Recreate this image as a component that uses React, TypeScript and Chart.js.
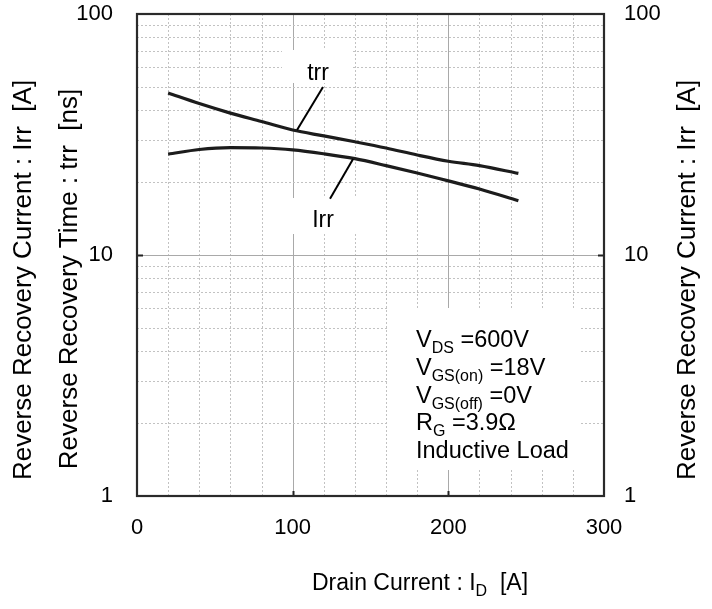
import React, { useEffect, useRef } from 'react';
import { Chart, registerables } from 'chart.js';

Chart.register(...registerables);

// ---- data ----
const drainCurrent = [20, 40, 60, 80, 100, 120, 140, 160, 180, 200, 220, 245];
const trrValues = [47, 42.5, 38.8, 35.8, 33.0, 31.2, 29.5, 27.8, 26.0, 24.5, 23.5, 21.8];
const irrValues = [26.2, 27.4, 27.9, 27.8, 27.3, 26.3, 25.1, 23.5, 21.9, 20.3, 18.8, 16.8];
const xTickValues = [0, 100, 200, 300];
const yTickValues = [1, 10, 100];
// leader lines: [fromX, fromY, toX, toY] in data units
const trrLeader = [119.5, 49.8, 102.8, 33.0];
const irrLeader = [138.8, 25.0, 124, 17.1];
const conditionLines = [
  [{ t: 'V' }, { t: 'DS', sub: true }, { t: ' =600V' }],
  [{ t: 'V' }, { t: 'GS(on)', sub: true }, { t: ' =18V' }],
  [{ t: 'V' }, { t: 'GS(off)', sub: true }, { t: ' =0V' }],
  [{ t: 'R' }, { t: 'G', sub: true }, { t: ' =3.9\u03A9' }],
  [{ t: 'Inductive Load' }],
];
const xTitle = [{ t: 'Drain Current : I' }, { t: 'D', sub: true }, { t: '  [A]' }];
const yTitle1 = 'Reverse Recovery Current : Irr  [A]';
const yTitle2 = 'Reverse Recovery Time : trr  [ns]';
const y2Title = 'Reverse Recovery Current : Irr  [A]';

const FONT = "'Liberation Sans', Arial, Helvetica, sans-serif";

type Part = { t: string; sub?: boolean };

function drawRich(ctx: CanvasRenderingContext2D, x: number, y: number, parts: Part[], size: number, subSize: number, align: 'left' | 'center' = 'left') {
  let w = 0;
  for (const p of parts) {
    ctx.font = `${p.sub ? subSize : size}px ${FONT}`;
    w += ctx.measureText(p.t).width;
  }
  let cx = align === 'center' ? x - w / 2 : x;
  ctx.textAlign = 'left';
  ctx.textBaseline = 'alphabetic';
  for (const p of parts) {
    ctx.font = `${p.sub ? subSize : size}px ${FONT}`;
    ctx.fillText(p.t, cx, p.sub ? y + 6 : y);
    cx += ctx.measureText(p.t).width;
  }
}

const decorPlugin = {
  id: 'decor',
  beforeDatasetsDraw(chart: any) {
    const { ctx, chartArea: a } = chart;
    const x = chart.scales.x;
    const y = chart.scales.y;
    ctx.save();
    ctx.lineWidth = 1;
    // vertical grid
    for (let v = 20; v < 300; v += 20) {
      const px = Math.round(x.getPixelForValue(v)) + 0.5;
      const major = v % 100 === 0;
      ctx.strokeStyle = major ? '#a9a9a9' : '#c2c2c2';
      ctx.setLineDash(major ? [] : [2, 2]);
      ctx.beginPath();
      ctx.moveTo(px, a.top);
      ctx.lineTo(px, a.bottom);
      ctx.stroke();
    }
    // horizontal grid (log)
    for (const d of [1, 10]) {
      for (let m = 2; m <= 10; m++) {
        const v = m * d;
        if (v >= 100) continue;
        const py = Math.round(y.getPixelForValue(v)) + 0.5;
        const major = m === 10;
        ctx.strokeStyle = major ? '#a9a9a9' : '#c2c2c2';
        ctx.setLineDash(major ? [] : [2, 2]);
        ctx.beginPath();
        ctx.moveTo(a.left, py);
        ctx.lineTo(a.right, py);
        ctx.stroke();
      }
    }
    ctx.setLineDash([]);
    // white label boxes
    ctx.fillStyle = '#ffffff';
    ctx.fillRect(282, 50, 70, 33);
    ctx.fillRect(291, 198, 67, 36);
    ctx.fillRect(389, 308, 190, 162);
    ctx.restore();
  },
  afterDatasetsDraw(chart: any) {
    const { ctx, chartArea: a } = chart;
    const x = chart.scales.x;
    const y = chart.scales.y;
    ctx.save();
    // leader lines
    ctx.strokeStyle = '#000';
    ctx.lineWidth = 2;
    for (const L of [trrLeader, irrLeader]) {
      ctx.beginPath();
      ctx.moveTo(x.getPixelForValue(L[0]), y.getPixelForValue(L[1]));
      ctx.lineTo(x.getPixelForValue(L[2]), y.getPixelForValue(L[3]));
      ctx.stroke();
    }
    ctx.fillStyle = '#000';
    ctx.font = `23px ${FONT}`;
    ctx.textAlign = 'center';
    ctx.textBaseline = 'alphabetic';
    ctx.fillText('trr', 318, 80);
    ctx.fillText('Irr', 323, 227);
    // conditions
    conditionLines.forEach((parts, i) => {
      drawRich(ctx, 416, 347 + i * 27.8, parts as Part[], 23.5, 16, 'left');
    });
    // inward ticks
    ctx.strokeStyle = '#222';
    ctx.lineWidth = 2;
    for (const v of [100, 200]) {
      const px = Math.round(x.getPixelForValue(v)) + 0.5;
      ctx.beginPath();
      ctx.moveTo(px, a.bottom);
      ctx.lineTo(px, a.bottom - 5);
      ctx.stroke();
    }
    const p10 = Math.round(y.getPixelForValue(10)) + 0.5;
    ctx.beginPath();
    ctx.moveTo(a.left, p10);
    ctx.lineTo(a.left + 6, p10);
    ctx.moveTo(a.right, p10);
    ctx.lineTo(a.right - 6, p10);
    ctx.stroke();
    // border
    ctx.strokeStyle = '#2a2a2a';
    ctx.lineWidth = 2.2;
    ctx.strokeRect(a.left, a.top, a.right - a.left, a.bottom - a.top);
    ctx.restore();
  },
  afterDraw(chart: any) {
    const { ctx } = chart;
    ctx.save();
    ctx.fillStyle = '#000';
    drawRich(ctx, 420, 590, xTitle as Part[], 23, 16, 'center');
    ctx.font = `26px ${FONT}`;
    ctx.textAlign = 'center';
    ctx.textBaseline = 'middle';
    const rot = (t: string, cx: number, cy: number) => {
      ctx.save();
      ctx.translate(cx, cy);
      ctx.rotate(-Math.PI / 2);
      ctx.fillText(t, 0, 0);
      ctx.restore();
    };
    rot(yTitle1, 24, 280);
    rot(yTitle2, 70, 279);
    rot(y2Title, 688, 280);
    ctx.restore();
  },
};

export default function App() {
  const ref = useRef<HTMLCanvasElement | null>(null);
  useEffect(() => {
    document.body.style.margin = '0';
    const canvas = ref.current!;
    const tickFont = { family: FONT, size: 22 };
    const logTicks = (s: any) => {
      s.ticks = yTickValues.map((v) => ({ value: v }));
    };
    const vFit = (w: number) => (s: any) => {
      s.width = w;
      s.paddingTop = 0;
      s.paddingBottom = 0;
    };
    const chart = new Chart(canvas, {
      type: 'line',
      data: {
        datasets: [
          {
            label: 'trr',
            data: drainCurrent.map((v, i) => ({ x: v, y: trrValues[i] })),
            borderColor: '#1c1c1c',
            borderWidth: 3.2,
            pointRadius: 0,
            tension: 0.4,
            cubicInterpolationMode: 'monotone',
            yAxisID: 'y',
          },
          {
            label: 'Irr',
            data: drainCurrent.map((v, i) => ({ x: v, y: irrValues[i] })),
            borderColor: '#1c1c1c',
            borderWidth: 3.2,
            pointRadius: 0,
            tension: 0.4,
            cubicInterpolationMode: 'monotone',
            yAxisID: 'y',
          },
        ],
      },
      plugins: [decorPlugin],
      options: {
        responsive: false,
        animation: false,
        devicePixelRatio: 1,
        layout: { padding: { top: 14, left: 0, right: 0, bottom: 0 } },
        plugins: { legend: { display: false }, tooltip: { enabled: false } },
        scales: {
          x: {
            type: 'linear',
            min: 0,
            max: 300,
            afterBuildTicks: (s: any) => {
              s.ticks = xTickValues.map((v) => ({ value: v }));
            },
            afterFit: (s: any) => {
              s.height = 113;
              s.paddingLeft = 0;
              s.paddingRight = 0;
            },
            ticks: { font: tickFont, color: '#000', padding: 19, maxRotation: 0 },
            grid: { display: false, drawTicks: false },
            border: { display: false },
          },
          y: {
            type: 'logarithmic',
            position: 'left',
            min: 1,
            max: 100,
            afterBuildTicks: logTicks,
            afterFit: vFit(137),
            ticks: { font: tickFont, color: '#000', padding: 24, callback: (v: any) => String(v) },
            grid: { display: false, drawTicks: false },
            border: { display: false },
          },
          y2: {
            type: 'logarithmic',
            position: 'right',
            min: 1,
            max: 100,
            afterBuildTicks: logTicks,
            afterFit: vFit(108),
            ticks: { font: tickFont, color: '#000', padding: 20, callback: (v: any) => String(v) },
            grid: { display: false, drawTicks: false },
            border: { display: false },
          },
        },
      } as any,
    });
    return () => chart.destroy();
  }, []);
  return (
    <div style={{ width: 712, height: 609, background: '#fff' }}>
      <canvas ref={ref} width={712} height={609} style={{ display: 'block' }} />
    </div>
  );
}
